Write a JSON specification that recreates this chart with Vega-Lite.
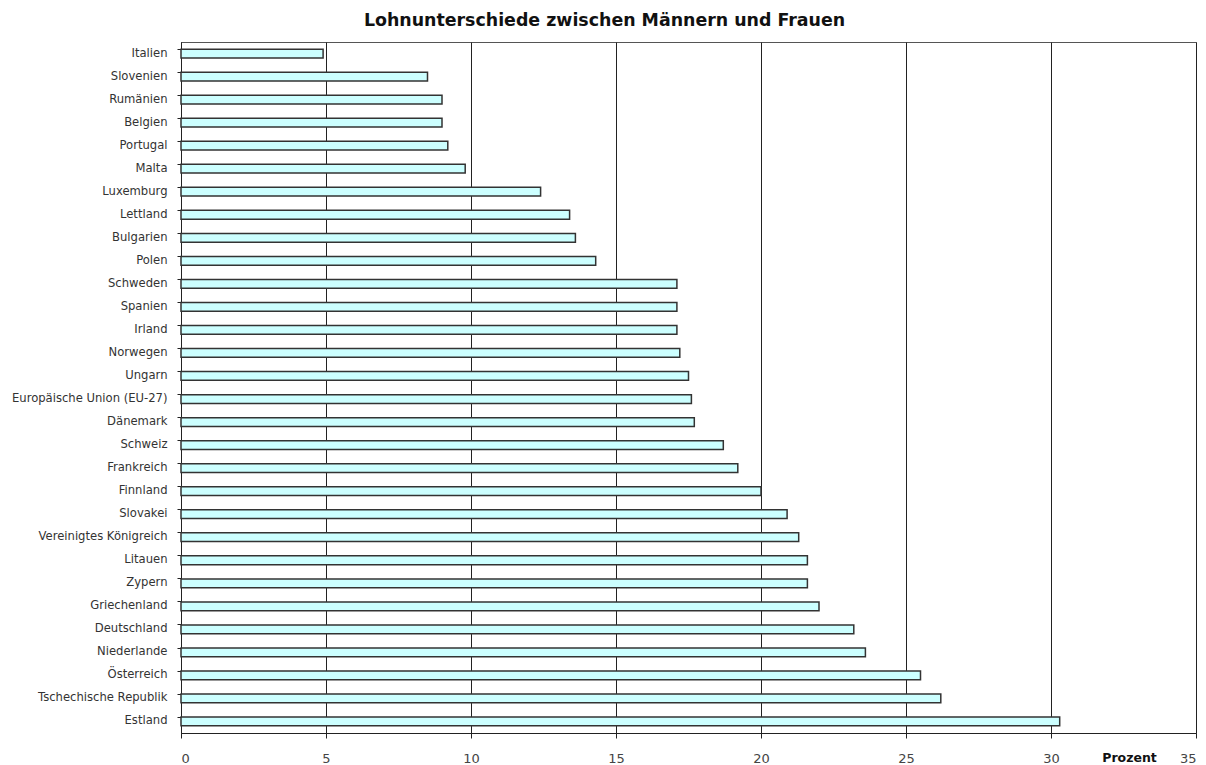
{
  "$schema": "https://vega.github.io/schema/vega-lite/v6.json",
  "width": 1015,
  "height": 691,
  "autosize": {"type": "none"},
  "padding": {"left": 181, "top": 42, "right": 10, "bottom": 32},
  "background": "white",
  "title": {
    "text": "Lohnunterschiede zwischen Männern und Frauen",
    "font": "DejaVu Sans",
    "fontSize": 17.4,
    "fontWeight": "bold",
    "color": "#111111",
    "anchor": "middle",
    "dx": -84,
    "offset": 13
  },
  "config": {
    "view": {"stroke": "#555555", "strokeWidth": 1},
    "font": "DejaVu Sans"
  },
  "data": {
    "values": [
      {"land": "Italien", "wert": 4.9},
      {"land": "Slovenien", "wert": 8.5},
      {"land": "Rumänien", "wert": 9.0},
      {"land": "Belgien", "wert": 9.0},
      {"land": "Portugal", "wert": 9.2},
      {"land": "Malta", "wert": 9.8},
      {"land": "Luxemburg", "wert": 12.4},
      {"land": "Lettland", "wert": 13.4},
      {"land": "Bulgarien", "wert": 13.6},
      {"land": "Polen", "wert": 14.3},
      {"land": "Schweden", "wert": 17.1},
      {"land": "Spanien", "wert": 17.1},
      {"land": "Irland", "wert": 17.1},
      {"land": "Norwegen", "wert": 17.2},
      {"land": "Ungarn", "wert": 17.5},
      {"land": "Europäische Union (EU-27)", "wert": 17.6},
      {"land": "Dänemark", "wert": 17.7},
      {"land": "Schweiz", "wert": 18.7},
      {"land": "Frankreich", "wert": 19.2},
      {"land": "Finnland", "wert": 20.0},
      {"land": "Slovakei", "wert": 20.9},
      {"land": "Vereinigtes Königreich", "wert": 21.3},
      {"land": "Litauen", "wert": 21.6},
      {"land": "Zypern", "wert": 21.6},
      {"land": "Griechenland", "wert": 22.0},
      {"land": "Deutschland", "wert": 23.2},
      {"land": "Niederlande", "wert": 23.6},
      {"land": "Österreich", "wert": 25.5},
      {"land": "Tschechische Republik", "wert": 26.2},
      {"land": "Estland", "wert": 30.3}
    ]
  },
  "mark": {"type": "bar", "fill": "#ccffff", "stroke": "#333333", "strokeWidth": 1.5},
  "encoding": {
    "y": {
      "field": "land",
      "type": "nominal",
      "sort": null,
      "scale": {"paddingInner": 0.62, "paddingOuter": 0.31},
      "axis": {
        "title": null,
        "bandPosition": 0,
        "domainColor": "#222222",
        "tickColor": "#222222",
        "tickSize": 4,
        "labelPadding": 10,
        "labelFont": "DejaVu Sans",
        "labelFontSize": 11.6,
        "labelColor": "#333333",
        "grid": false
      }
    },
    "x": {
      "field": "wert",
      "type": "quantitative",
      "scale": {"domain": [0, 35], "nice": false},
      "axis": {
        "values": [0, 5, 10, 15, 20, 25, 30, 35],
        "grid": true,
        "gridColor": "#222222",
        "gridOpacity": 1,
        "gridWidth": 1,
        "domainColor": "#222222",
        "tickColor": "#222222",
        "tickSize": 5,
        "labelPadding": 14,
        "labelFont": "DejaVu Sans",
        "labelFontSize": 13,
        "labelColor": "#444444",
        "title": "Prozent",
        "titleFont": "DejaVu Sans",
        "titleFontSize": 12.5,
        "titleFontWeight": "bold",
        "titleColor": "#111111",
        "titleX": 948,
        "titleY": 24,
        "titleAlign": "center",
        "titleBaseline": "middle"
      }
    }
  }
}
